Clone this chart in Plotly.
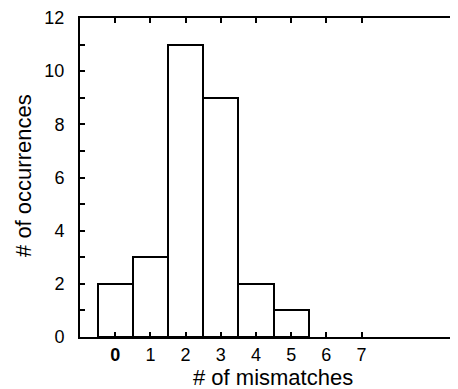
import plotly.graph_objects as go

mismatches = [0, 1, 2, 3, 4, 5]
occurrences = [2, 3, 11, 9, 2, 1]
x_ticks = [0, 1, 2, 3, 4, 5, 6, 7]
x_tick_text = ["<b>0</b>", "1", "2", "3", "4", "5", "6", "7"]
y_ticks = [0, 2, 4, 6, 8, 10, 12]

FONT = "Liberation Sans, Arial, sans-serif"

fig = go.Figure()
fig.add_trace(go.Bar(
    x=mismatches, y=occurrences, width=1,
    marker=dict(color="white", line=dict(color="black", width=2)),
))

# page body has an 8px margin, so the figure is 8px smaller and margins shifted
fig.update_layout(
    width=450, height=381,
    margin=dict(l=72, r=0, t=6, b=52),
    plot_bgcolor="white", paper_bgcolor="white",
    showlegend=False,
    font=dict(family=FONT, color="black", size=18),
    bargap=0,
)
fig.update_xaxes(
    range=[-1, 9.74], tickvals=x_ticks, ticktext=x_tick_text,
    ticks="inside", ticklen=5, tickwidth=2, tickcolor="black",
    showline=True, linecolor="black", linewidth=2, mirror="ticks",
    showgrid=False, zeroline=False, ticklabelstandoff=0,
    tickfont=dict(size=18, family=FONT),
)
fig.update_yaxes(
    range=[0, 12], tickvals=y_ticks,
    ticks="inside", ticklen=5, tickwidth=2, tickcolor="black",
    minor=dict(dtick=1, ticks="inside", ticklen=5, tickwidth=2, tickcolor="black", showgrid=False),
    showline=True, linecolor="black", linewidth=2, mirror=False,
    showgrid=False, zeroline=False, ticklabelstandoff=10,
    ticklabeloverflow="allow",
    tickfont=dict(size=18, family=FONT),
)
fig.add_annotation(text="# of mismatches", xref="paper", yref="paper",
                   x=0.511, y=-0.127, xanchor="center", yanchor="middle",
                   showarrow=False, font=dict(size=22, family=FONT))
fig.add_annotation(text="# of occurrences", xref="paper", yref="paper",
                   x=-0.148, y=0.505, xanchor="center", yanchor="middle",
                   textangle=-90, showarrow=False, font=dict(size=22, family=FONT))

fig.write_html("out.html")
